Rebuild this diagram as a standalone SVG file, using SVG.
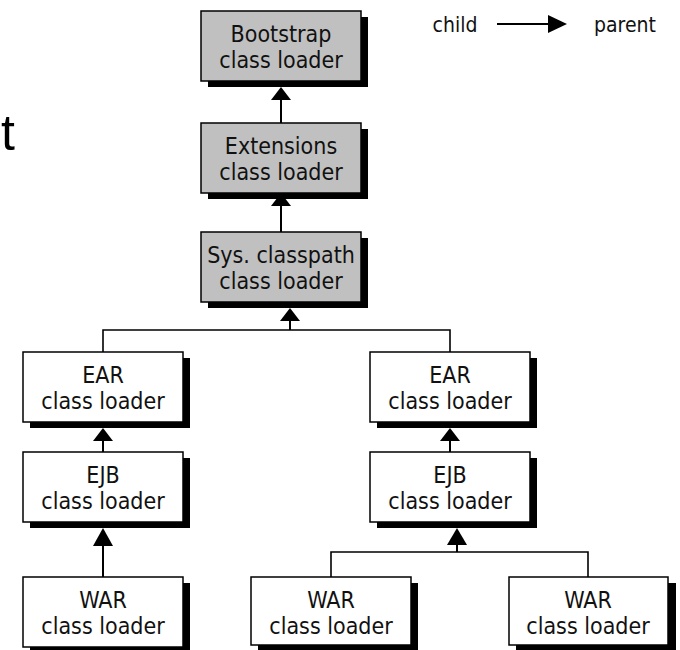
<svg xmlns="http://www.w3.org/2000/svg" width="680" height="650" viewBox="0 0 680 650">
<style>
.box{stroke:#000;stroke-width:1.5}
.g{fill:#c0c0c0}
.w{fill:#fff}
.sh{fill:#000}
text{font-family:"DejaVu Sans Condensed","DejaVu Sans",Verdana,sans-serif;font-size:23px;fill:#111;text-anchor:middle}
.lg{font-size:21px}
.ln{stroke:#000;stroke-width:2;fill:none}
.ln2{stroke:#000;stroke-width:1.6;fill:none}
.ah{fill:#000}
</style>
<text x="1" y="150" style="font-family:'Liberation Sans',Arial,sans-serif;font-size:50px;text-anchor:start;fill:#000">t</text>
<g id="legend">
<text class="lg" x="455" y="32">child</text>
<line class="ln" x1="497" y1="24" x2="550" y2="24"/>
<polygon class="ah" points="548,15 567,24 548,33"/>
<text class="lg" x="625" y="32">parent</text>
</g>
<g id="connectors">
<line class="ln" x1="281" y1="99" x2="281" y2="123"/>
<polygon class="ah" points="281,87 271,100 291,100"/>
<line class="ln" x1="281" y1="205" x2="281" y2="232"/>
<polygon class="ah" points="281,193 271,206 291,206"/>
<line class="ln" x1="290" y1="320" x2="290" y2="330"/>
<polygon class="ah" points="290,308 280,321 300,321"/>
<polyline class="ln2" points="103,352 103,330 450,330 450,352"/>
<line class="ln" x1="103" y1="440" x2="103" y2="452"/>
<polygon class="ah" points="103,428 93,441 113,441"/>
<line class="ln" x1="103" y1="546" x2="103" y2="577"/>
<polygon class="ah" points="103,528 93,546 113,546"/>
<line class="ln" x1="450" y1="440" x2="450" y2="452"/>
<polygon class="ah" points="450,428 440,441 460,441"/>
<line class="ln" x1="457" y1="545" x2="457" y2="552"/>
<polygon class="ah" points="457,528 447,545 467,545"/>
<polyline class="ln2" points="331,577 331,552 588,552 588,577"/>
</g>
<g id="bootstrap">
<rect class="sh" x="208" y="17" width="160" height="70"/>
<rect class="box g" x="201" y="11" width="160" height="70"/>
<text x="281" y="42">Bootstrap</text>
<text x="281" y="68">class loader</text>
</g>
<g id="extensions">
<rect class="sh" x="208" y="129" width="160" height="70"/>
<rect class="box g" x="201" y="123" width="160" height="70"/>
<text x="281" y="154">Extensions</text>
<text x="281" y="180">class loader</text>
</g>
<g id="syscp">
<rect class="sh" x="208" y="238" width="160" height="70"/>
<rect class="box g" x="201" y="232" width="160" height="70"/>
<text x="281" y="263">Sys. classpath</text>
<text x="281" y="289">class loader</text>
</g>
<g id="ear1">
<rect class="sh" x="30" y="358" width="160" height="70"/>
<rect class="box w" x="23" y="352" width="160" height="70"/>
<text x="103" y="383">EAR</text>
<text x="103" y="409">class loader</text>
</g>
<g id="ejb1">
<rect class="sh" x="30" y="458" width="160" height="70"/>
<rect class="box w" x="23" y="452" width="160" height="70"/>
<text x="103" y="483">EJB</text>
<text x="103" y="509">class loader</text>
</g>
<g id="war1">
<rect class="sh" x="30" y="583" width="160" height="70"/>
<rect class="box w" x="23" y="577" width="160" height="70"/>
<text x="103" y="608">WAR</text>
<text x="103" y="634">class loader</text>
</g>
<g id="ear2">
<rect class="sh" x="377" y="358" width="160" height="70"/>
<rect class="box w" x="370" y="352" width="160" height="70"/>
<text x="450" y="383">EAR</text>
<text x="450" y="409">class loader</text>
</g>
<g id="ejb2">
<rect class="sh" x="377" y="458" width="160" height="70"/>
<rect class="box w" x="370" y="452" width="160" height="70"/>
<text x="450" y="483">EJB</text>
<text x="450" y="509">class loader</text>
</g>
<g id="war2">
<rect class="sh" x="258" y="583" width="160" height="70"/>
<rect class="box w" x="251" y="577" width="160" height="68"/>
<text x="331" y="608">WAR</text>
<text x="331" y="634">class loader</text>
</g>
<g id="war3">
<rect class="sh" x="516" y="583" width="160" height="70"/>
<rect class="box w" x="509" y="577" width="159" height="68"/>
<text x="588" y="608">WAR</text>
<text x="588" y="634">class loader</text>
</g>
</svg>
